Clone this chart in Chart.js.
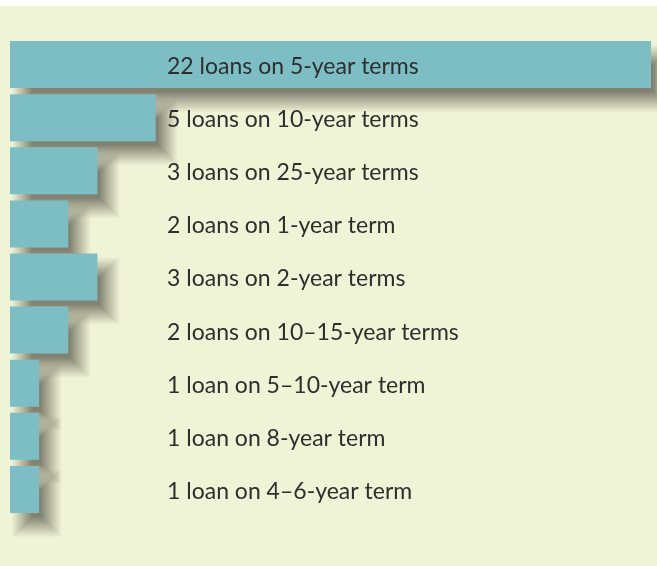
<!DOCTYPE html>
<html><head><meta charset="utf-8">
<script src="https://cdn.jsdelivr.net/npm/chart.js@4.4.1/dist/chart.umd.min.js"></script>
<style>
html,body{margin:0;padding:0;background:#ffffff;}
#wrap{position:absolute;left:0;top:6px;width:657px;height:560px;background:#f0f4d7;}
</style></head><body>
<div id="wrap"><canvas id="c" width="657" height="560"></canvas></div>
<script>
const categories = ["5-year","10-year","25-year","1-year","2-year","10–15-year","5–10-year","8-year","4–6-year"];
const loanCounts = [22,5,3,2,3,2,1,1,1];
const labels = ["22 loans on 5-year terms","5 loans on 10-year terms","3 loans on 25-year terms","2 loans on 1-year term","3 loans on 2-year terms","2 loans on 10–15-year terms","1 loan on 5–10-year term","1 loan on 8-year term","1 loan on 4–6-year term"];

const SH = {dx:12, dy:14, r:10, color:'rgb(130,130,114)'};

const shadowPlugin = {
  id:'shadow',
  beforeDatasetsDraw(chart){
    const ctx=chart.ctx;
    const meta=chart.getDatasetMeta(0);
    ctx.save();
    ctx.fillStyle=SH.color;
    const N = 2*SH.r+1;
    meta.data.forEach(el=>{
      const p = el.getProps(['x','y','base','height'], true);
      const left = Math.min(p.base,p.x)+SH.dx, right=Math.max(p.base,p.x)+SH.dx;
      const top = p.y - p.height/2 + SH.dy, bottom = p.y + p.height/2 + SH.dy;
      for(let k=1;k<=N;k++){
        const s = SH.r - (k-1);
        ctx.globalAlpha = 1/(N-k+1);
        const w = right-left+2*s, h = bottom-top+2*s;
        if(w<=0||h<=0) continue;
        ctx.fillRect(left-s, top-s, w, h);
      }
    });
    ctx.restore();
  },
  afterDatasetsDraw(chart){
    const ctx=chart.ctx;
    const meta=chart.getDatasetMeta(0);
    ctx.save();
    ctx.font='23px Lato, "Open Sans", sans-serif';
    ctx.fillStyle='#2e2e2e';
    ctx.textBaseline='middle';
    ctx.textAlign='left';
    meta.data.forEach((el,i)=>{
      ctx.fillText(labels[i], 167, el.y+2);
    });
    ctx.restore();
  }
};

new Chart(document.getElementById('c'),{
  type:'bar',
  data:{labels:categories,datasets:[{data:loanCounts,backgroundColor:'#7dbec5',borderWidth:0,categoryPercentage:0.885,barPercentage:1,clip:false}]},
  options:{
    indexAxis:'y',responsive:false,animation:false,
    layout:{padding:{left:10,right:6,top:32,bottom:50}},
    plugins:{legend:{display:false},tooltip:{enabled:false}},
    scales:{
      x:{display:false,min:0,max:22},
      y:{display:false}
    }
  },
  plugins:[shadowPlugin]
});
</script>
</body></html>
